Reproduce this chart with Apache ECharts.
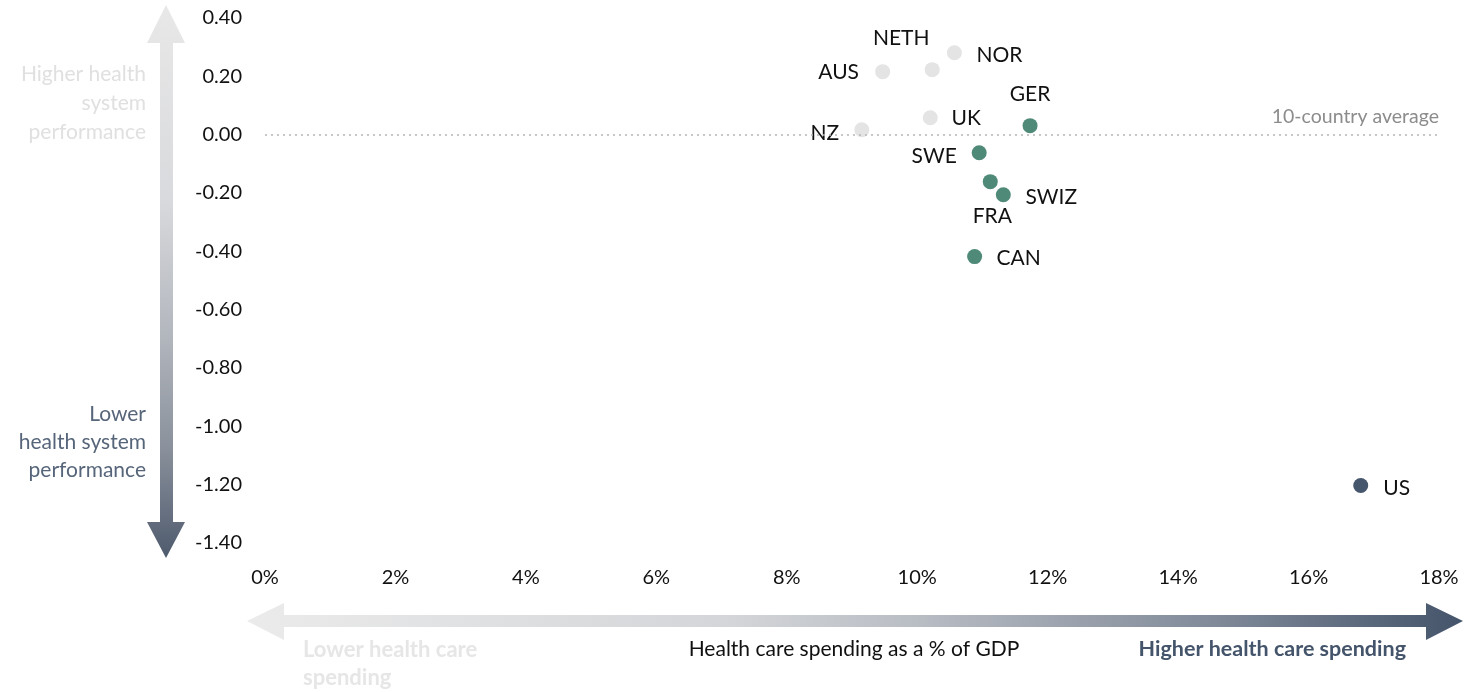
<!DOCTYPE html>
<html>
<head>
<meta charset="utf-8">
<script src="https://cdn.jsdelivr.net/npm/echarts@6/dist/echarts.min.js"></script>
<style>
html,body{margin:0;padding:0;background:#fff;}
#chart{width:1472px;height:692px;}
</style>
</head>
<body>
<div id="chart"></div>
<script>
// ---- data ----
const countries   = ['AUS', 'NETH', 'NOR', 'UK', 'NZ', 'GER', 'SWE', 'FRA', 'SWIZ', 'CAN', 'US'];
const spendingPct = [9.47, 10.23, 10.57, 10.20, 9.15, 11.73, 10.95, 11.12, 11.32, 10.88, 16.80];
const performance = [0.216, 0.223, 0.281, 0.058, 0.017, 0.031, -0.062, -0.161, -0.206, -0.418, -1.203];
const tier        = ['high', 'high', 'high', 'high', 'high', 'mid', 'mid', 'mid', 'mid', 'mid', 'low'];
const averageValue = 0;
const xTicks = { min: 0, max: 18, interval: 2 };
const yTicks = { min: -1.4, max: 0.4, interval: 0.2 };

// ---- styles / layout ----
const FONT = 'Lato, "Open Sans", sans-serif';
const tierColor = { high: '#e4e4e4', mid: '#4f8a78', low: '#46566d' };
const tierName  = { high: 'Higher performance', mid: 'Middle performance', low: 'Lower performance' };
const labelOffset = {
  AUS: [-44, 1], NETH: [-31, -31], NOR: [45, 3], UK: [36, 0], NZ: [-37, 4],
  GER: [0, -31], SWE: [-45, 3], FRA: [2, 35], SWIZ: [48, 2], CAN: [44, 2], US: [36, 3]
};

function buildSeries(t) {
  const data = [];
  countries.forEach((c, i) => {
    if (tier[i] !== t) return;
    data.push({
      name: c,
      value: [spendingPct[i], performance[i]],
      label: { offset: labelOffset[c] }
    });
  });
  return {
    type: 'scatter',
    name: tierName[t],
    symbolSize: 15,
    itemStyle: { color: tierColor[t], opacity: 1 },
    label: {
      show: true,
      position: 'inside',
      formatter: '{b}',
      color: '#111',
      fontSize: 21,
      fontFamily: FONT
    },
    emphasis: { disabled: true },
    data: data
  };
}

const series = ['high', 'mid', 'low'].map(buildSeries);
series[0].markLine = {
  silent: true,
  symbol: 'none',
  lineStyle: { type: [2, 4], color: '#b5b5b5', width: 1.5 },
  label: {
    show: true,
    position: 'insideEndTop',
    formatter: '10-country average',
    color: '#8c8c8c',
    fontSize: 19.5,
    fontFamily: FONT,
    distance: [0, 8]
  },
  data: [{ yAxis: averageValue }]
};

const chart = echarts.init(document.getElementById('chart'), null, { renderer: 'canvas' });

const vGrad = new echarts.graphic.LinearGradient(0, 0, 0, 1, [
  { offset: 0, color: '#e8e8e8' },
  { offset: 0.35, color: '#d9dadd' },
  { offset: 0.6, color: '#b2b6bd' },
  { offset: 0.8, color: '#8a919c' },
  { offset: 1, color: '#4e5a6d' }
]);
const hGrad = new echarts.graphic.LinearGradient(0, 0, 1, 0, [
  { offset: 0, color: '#ebebeb' },
  { offset: 0.4, color: '#d3d5d8' },
  { offset: 0.55, color: '#b9bdc4' },
  { offset: 0.8, color: '#7f8998' },
  { offset: 1, color: '#44546a' }
]);

const option = {
  backgroundColor: '#ffffff',
  animation: false,
  grid: { left: 265, right: 33, top: 18, bottom: 149, containLabel: false },
  xAxis: {
    type: 'value',
    min: xTicks.min, max: xTicks.max, interval: xTicks.interval,
    axisLine: { show: false }, axisTick: { show: false }, splitLine: { show: false },
    axisLabel: {
      formatter: v => Math.round(v) + '%',
      color: '#111', fontSize: 20, fontFamily: FONT, margin: 25
    }
  },
  yAxis: {
    type: 'value',
    min: yTicks.min, max: yTicks.max, interval: yTicks.interval,
    axisLine: { show: false }, axisTick: { show: false }, splitLine: { show: false },
    axisLabel: {
      formatter: v => (Math.abs(v) < 1e-9 ? 0 : v).toFixed(2),
      color: '#111', fontSize: 20, fontFamily: FONT, margin: 23
    }
  },
  series: series,
  graphic: [
    {
      type: 'polygon', silent: true,
      shape: { points: [[166, 5], [185, 43], [173, 43], [173, 522], [185, 522], [166, 558], [147, 522], [160, 522], [160, 43], [147, 43]] },
      style: { fill: vGrad }
    },
    {
      type: 'polygon', silent: true,
      shape: { points: [[247, 621], [284, 603], [284, 615], [1426, 615], [1426, 603], [1463, 621], [1426, 640], [1426, 627], [284, 627], [284, 640]] },
      style: { fill: hGrad }
    },
    {
      type: 'text', silent: true, x: 146, y: 60,
      style: { text: 'Higher health\nsystem\nperformance', textAlign: 'right', fill: '#e0e0e0', font: '21px ' + FONT, lineHeight: 29 }
    },
    {
      type: 'text', silent: true, x: 146, y: 400,
      style: { text: 'Lower\nhealth system\nperformance', textAlign: 'right', fill: '#56657a', font: '21px ' + FONT, lineHeight: 28 }
    },
    {
      type: 'text', silent: true, x: 303, y: 636,
      style: { text: 'Lower health care\nspending', textAlign: 'left', fill: '#e6e6e6', font: 'bold 22px ' + FONT, lineHeight: 28 }
    },
    {
      type: 'text', silent: true, x: 854, y: 639,
      style: { text: 'Health care spending as a % of GDP', textAlign: 'center', fill: '#111', font: '21px ' + FONT }
    },
    {
      type: 'text', silent: true, x: 1406, y: 638,
      style: { text: 'Higher health care spending', textAlign: 'right', fill: '#44546a', font: 'bold 21.5px ' + FONT }
    }
  ]
};
chart.setOption(option);
</script>
</body>
</html>
